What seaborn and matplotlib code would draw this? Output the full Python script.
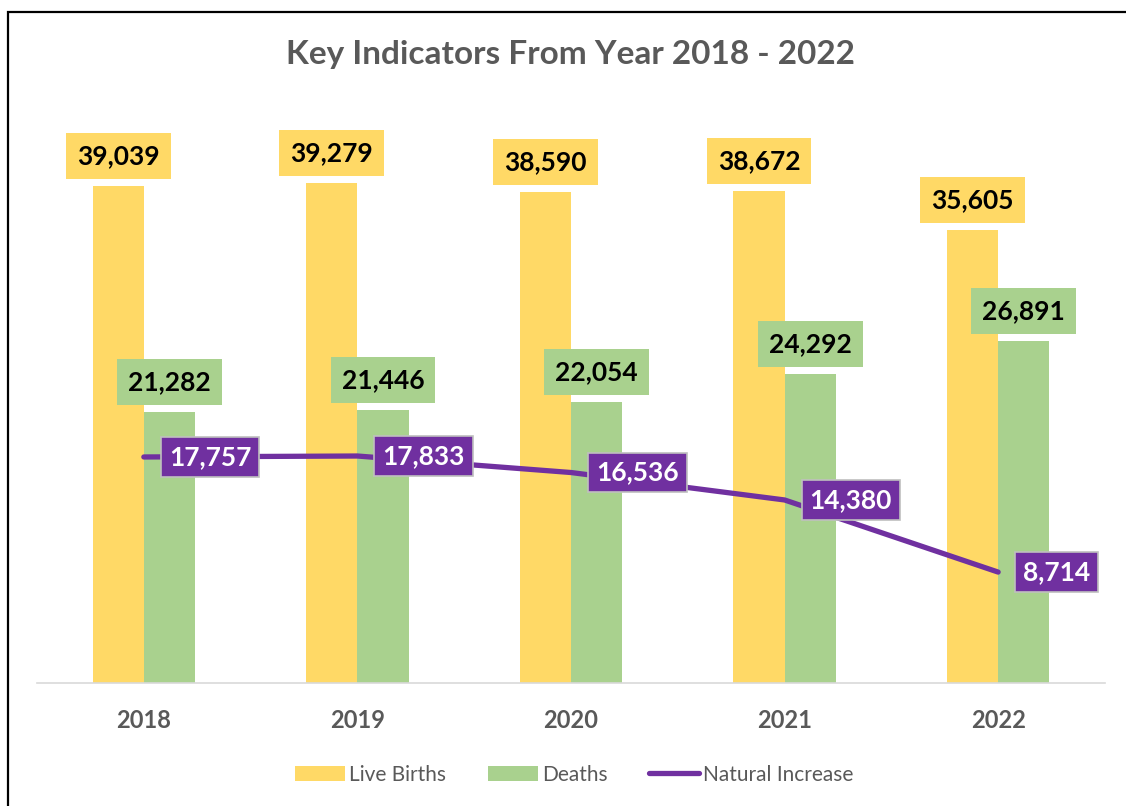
import seaborn as sns
import numpy as np
import pandas as pd
import matplotlib.pyplot as plt
from matplotlib.patches import Rectangle, Patch
from matplotlib.lines import Line2D

# data
years = ['2018', '2019', '2020', '2021', '2022']
live_births = [39039, 39279, 38590, 38672, 35605]
deaths = [21282, 21446, 22054, 24292, 26891]
natural_increase = [17757, 17833, 16536, 14380, 8714]

yellow = '#FFD966'
green = '#A9D18E'
purple = '#7030A0'
grey = '#595959'

sns.set_style('white')
plt.rcParams['font.family'] = ['Lato', 'DejaVu Sans']

df = pd.DataFrame({
    'Year': years * 2,
    'Value': live_births + deaths,
    'Series': ['Live Births'] * 5 + ['Deaths'] * 5,
})

fig = plt.figure(figsize=(11.26, 8.06), dpi=100)
ax = fig.add_axes([0.0329, 0.1526, 0.9484, 0.7233])

sns.barplot(data=df, x='Year', y='Value', hue='Series',
            palette=[yellow, green], width=0.48, gap=0,
            saturation=1, legend=False, edgecolor='none', linewidth=0, ax=ax)

x_pos = np.arange(len(years))
sns.lineplot(x=x_pos, y=natural_increase, color=purple, linewidth=3.8,
             ax=ax, legend=False)
for line in ax.lines:
    line.set_solid_capstyle('round')

# bar labels
for i, cont in enumerate(ax.containers):
    col = [yellow, green][i]
    for bar in cont:
        h = bar.get_height()
        ax.annotate(f'{int(h):,}', (bar.get_x() + bar.get_width() / 2, h),
                    xytext=(0, 13), textcoords='offset points',
                    ha='center', va='bottom', fontsize=19, fontweight='bold',
                    color='black',
                    bbox=dict(boxstyle='square,pad=0.42', fc=col, ec='none'))

# line labels
for x, v in zip(x_pos, natural_increase):
    ax.annotate(f'{v:,}', (x, v), xytext=(18, 0), textcoords='offset points',
                ha='left', va='center', fontsize=19, fontweight='bold',
                color='white',
                bbox=dict(boxstyle='square,pad=0.3', fc=purple, ec='#BFBFBF', lw=1.2))

ax.set_xlim(-0.5, 4.5)
ax.set_ylim(0, 45800)
ax.set_xlabel('')
ax.set_ylabel('')
ax.set_yticks([])
ax.tick_params(axis='x', length=0, pad=19)
for lab in ax.get_xticklabels():
    lab.set_fontsize(17)
    lab.set_fontweight('bold')
    lab.set_color(grey)
for s in ['top', 'right', 'left']:
    ax.spines[s].set_visible(False)
ax.spines['bottom'].set_color('#D9D9D9')
ax.spines['bottom'].set_linewidth(1.2)

fig.suptitle('Key Indicators From Year 2018 - 2022', x=0.507, y=0.95,
             fontsize=24, fontweight='bold', color=grey)

# legend
handles = [Patch(fc=yellow, ec='none'), Patch(fc=green, ec='none'),
           Line2D([0], [0], color=purple, lw=3.8, solid_capstyle='round')]
fig.legend(handles, ['Live Births', 'Deaths', 'Natural Increase'],
           loc='center', bbox_to_anchor=(0.51, 0.039), ncol=3, frameon=False,
           fontsize=15, labelcolor=grey, handlelength=2.4, handleheight=0.7,
           columnspacing=2.0, handletextpad=0.2)

# outer border
fig.patches.append(Rectangle((0.0071, -0.2), 2, 1.185, transform=fig.transFigure,
                             fill=False, ec='black', lw=1.6, zorder=10))

plt.savefig('out.png', dpi=100)
